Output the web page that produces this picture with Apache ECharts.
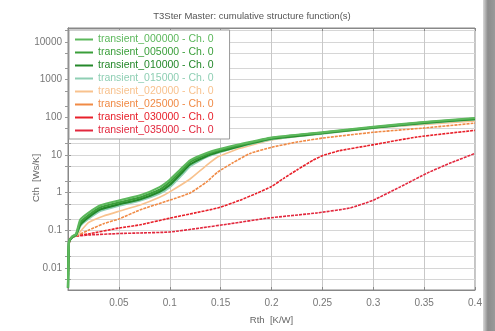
<!DOCTYPE html>
<html>
<head>
<meta charset="utf-8">
<script src="https://cdn.jsdelivr.net/npm/echarts@6/dist/echarts.min.js"></script>
<style>
  html, body { margin: 0; padding: 0; background: #fff; }
  #chart { width: 495px; height: 331px; }
</style>
</head>
<body>
<div id="chart"></div>
<script>
// series: [Rth, Cth] pairs
const names = [
  "transient_000000 - Ch. 0",
  "transient_005000 - Ch. 0",
  "transient_010000 - Ch. 0",
  "transient_015000 - Ch. 0",
  "transient_020000 - Ch. 0",
  "transient_025000 - Ch. 0",
  "transient_030000 - Ch. 0",
  "transient_035000 - Ch. 0"
];
const colors = ["#5cb85c", "#3a9e3a", "#24882a", "#8fcfb4", "#f8c28e", "#f08a45", "#e8202a", "#e2283e"];

const t000000 = [[0,0.003],[0.001,0.05],[0.004,0.068],[0.008,0.08],[0.012,0.19],[0.02,0.29],[0.032,0.46],[0.05,0.62],[0.071,0.85],[0.09,1.4],[0.1,2.2],[0.11,4],[0.12,7.2],[0.135,11],[0.15,14.5],[0.17,19.5],[0.2,29],[0.25,40],[0.3,56],[0.35,75],[0.4,96]];
const t005000 = [[0,0.003],[0.001,0.05],[0.004,0.066],[0.008,0.078],[0.012,0.16],[0.02,0.25],[0.032,0.41],[0.05,0.55],[0.071,0.75],[0.09,1.2],[0.1,1.9],[0.11,3.5],[0.12,6.5],[0.135,10],[0.15,13.5],[0.17,18.5],[0.2,28],[0.25,39],[0.3,54],[0.35,73],[0.4,93]];
const t010000 = [[0,0.003],[0.001,0.05],[0.004,0.065],[0.008,0.076],[0.012,0.14],[0.02,0.22],[0.032,0.36],[0.05,0.49],[0.071,0.67],[0.09,1.05],[0.1,1.6],[0.11,3],[0.12,5.6],[0.135,9],[0.15,12.5],[0.17,17.5],[0.2,27],[0.25,38],[0.3,53],[0.35,71],[0.4,90]];
const t015000 = [[0,0.003],[0.001,0.05],[0.004,0.064],[0.008,0.074],[0.012,0.13],[0.02,0.2],[0.032,0.33],[0.05,0.45],[0.071,0.62],[0.09,0.95],[0.1,1.4],[0.11,2.6],[0.12,5],[0.135,8.5],[0.15,12],[0.17,17],[0.2,26],[0.25,37],[0.3,52],[0.35,69],[0.4,88]];
const t020000 = [[0,0.003],[0.001,0.05],[0.004,0.063],[0.01,0.08],[0.02,0.16],[0.035,0.24],[0.05,0.32],[0.071,0.47],[0.09,0.75],[0.1,1.05],[0.12,2.3],[0.135,5],[0.147,8.8],[0.169,15],[0.2,25],[0.25,37],[0.3,51],[0.35,65],[0.4,80]];
const t025000 = [[0,0.003],[0.001,0.05],[0.004,0.062],[0.01,0.075],[0.02,0.1],[0.035,0.15],[0.05,0.2],[0.071,0.35],[0.1,0.63],[0.12,0.98],[0.136,1.9],[0.147,3.5],[0.162,6.2],[0.179,11],[0.2,16],[0.225,22],[0.25,28],[0.3,40],[0.35,52],[0.4,70]];
const t030000 = [[0,0.003],[0.001,0.04],[0.002,0.06],[0.005,0.07],[0.02,0.08],[0.05,0.115],[0.071,0.14],[0.1,0.21],[0.125,0.29],[0.147,0.39],[0.169,0.63],[0.185,0.95],[0.2,1.45],[0.212,2.4],[0.225,4],[0.241,7.3],[0.25,9.6],[0.267,13],[0.294,17.5],[0.343,30],[0.4,45]];
const t035000 = [[0,0.003],[0.001,0.04],[0.002,0.06],[0.005,0.068],[0.02,0.075],[0.05,0.082],[0.071,0.085],[0.1,0.09],[0.13,0.115],[0.16,0.15],[0.196,0.21],[0.245,0.29],[0.277,0.39],[0.3,0.63],[0.326,1.4],[0.353,3.3],[0.375,6],[0.4,11]];

const seriesData = [t000000, t005000, t010000, t015000, t020000, t025000, t030000, t035000];

const yLabels = [0.01, 0.1, 1, 10, 100, 1000, 10000];
const yGrid = [0.005, 0.01, 0.02, 0.05, 0.1, 0.2, 0.5, 1, 2, 5, 10, 20, 50, 100, 200, 500, 1000, 2000, 5000, 10000, 20000];

const font = "Liberation Sans";
const chart = echarts.init(document.getElementById("chart"));

const series = seriesData.map((d, i) => ({
  name: names[i],
  type: "line",
  data: d,
  smooth: 0.15,
  showSymbol: false,
  z: 10 - i,
  lineStyle: {
    color: colors[i],
    width: i < 4 ? 2.2 : 1.6,
    type: i >= 5 ? [3, 1] : "solid"
  },
  itemStyle: { color: colors[i] }
}));

chart.setOption({
  backgroundColor: "#fff",
  animation: false,
  title: {
    text: "T3Ster Master: cumulative structure function(s)",
    left: 247, top: 6, textAlign: "center",
    textStyle: { fontFamily: font, fontSize: 9.5, fontWeight: "normal", color: "#555" }
  },
  legend: {
    orient: "vertical",
    left: 69, top: 30,
    itemWidth: 18, itemHeight: 2, itemGap: 2,
    padding: [4, 16, 3, 6],
    backgroundColor: "#fff",
    borderColor: "#999", borderWidth: 1,
    icon: "rect",
    data: names.map((n, i) => ({ name: n, textStyle: { color: colors[i] } })),
    textStyle: { fontFamily: font, fontSize: 10.5, lineHeight: 10.5 }
  },
  grid: { left: 68, right: 20, top: 28, bottom: 41, show: true, borderColor: "#888", borderWidth: 1 },
  xAxis: [{
    type: "value", min: 0, max: 0.4, interval: 0.05,
    name: "Rth  [K/W]", nameLocation: "middle", nameGap: 25,
    nameTextStyle: { fontFamily: font, fontSize: 9.5, color: "#666" },
    axisLine: { lineStyle: { color: "#888" } },
    axisTick: { inside: true, length: 3, lineStyle: { color: "#888" } },
    axisLabel: {
      fontFamily: font, fontSize: 10, color: "#777", margin: 8,
      formatter: v => v === 0 ? "" : String(+v.toFixed(2))
    },
    splitLine: { lineStyle: { color: "#c8c8c8" } }
  }, {
    type: "value", min: 0, max: 0.4, interval: 0.05, position: "top",
    axisLine: { lineStyle: { color: "#888" } },
    axisTick: { inside: true, length: 3, lineStyle: { color: "#888" } },
    axisLabel: { show: false }, splitLine: { show: false }
  }],
  yAxis: [{
    type: "log", logBase: 10, min: 0.0026, max: 23500,
    axisLine: { lineStyle: { color: "#888" } },
    axisTick: { inside: true, length: 3, customValues: yGrid, lineStyle: { color: "#999" } },
    axisLabel: {
      fontFamily: font, fontSize: 10, color: "#777", margin: 6,
      customValues: yLabels,
      formatter: v => String(v)
    },
    splitLine: { lineStyle: { color: "#d6d6d6" } }
  }, {
    type: "log", logBase: 10, min: 0.0026, max: 23500, position: "right",
    axisLine: { lineStyle: { color: "#888" } },
    axisTick: { inside: true, length: 3, customValues: yGrid, lineStyle: { color: "#999" } },
    axisLabel: { show: false }, splitLine: { show: false }
  }],
  graphic: [{
    type: "rect", right: 0, top: 0, z: -1,
    shape: { width: 12, height: 331 },
    style: {
      fill: new echarts.graphic.LinearGradient(0, 0, 1, 0, [
        { offset: 0, color: "#d8d8d8" }, { offset: 0.4, color: "#8c8c8c" }, { offset: 1, color: "#9a9a9a" }
      ])
    }
  }, {
    // y axis title
    type: "text", x: 36, y: 178, rotation: Math.PI / 2,
    style: {
      text: "Cth  [Ws/K]", fontFamily: font, fontSize: 9.5, fill: "#666",
      align: "center", verticalAlign: "middle"
    }
  }],
  series: series
});
</script>
</body>
</html>
